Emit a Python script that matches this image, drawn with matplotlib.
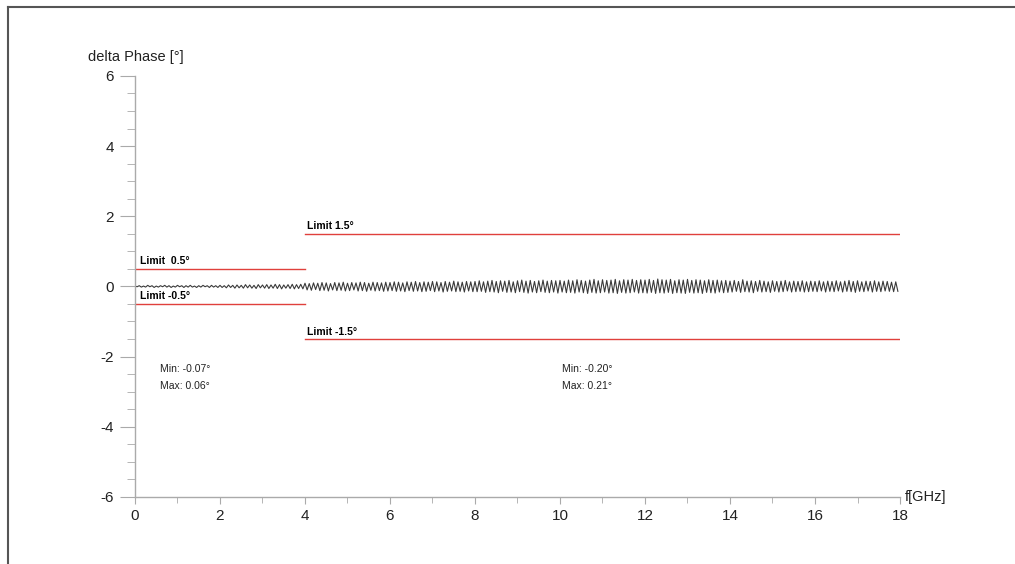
import numpy as np
import matplotlib
matplotlib.use("Agg")
import matplotlib.pyplot as plt
from matplotlib.lines import Line2D
from matplotlib.ticker import MultipleLocator

plt.rcParams['font.family'] = ['Liberation Sans', 'DejaVu Sans']
plt.rcParams['axes.unicode_minus'] = False

# ---- data ----
# upper excursion of each 0.1 GHz cycle
peaks_hi = [
    0.01, 0.02, 0.01, 0.03, 0.02, 0.01, 0.02, 0.03, 0.02, 0.01, 0.03, 0.02, 0.02, 0.03, 0.01, 0.02, 0.03, 0.02, 0.03, 0.02,
    0.03, 0.02, 0.04, 0.03, 0.04, 0.03, 0.05, 0.04, 0.03, 0.05, 0.04, 0.05, 0.04, 0.06, 0.05, 0.04, 0.05, 0.06, 0.05, 0.06,
    0.09, 0.08, 0.10, 0.09, 0.11, 0.10, 0.08, 0.11, 0.10, 0.12, 0.09, 0.11, 0.10, 0.12, 0.11, 0.09, 0.12, 0.11, 0.10, 0.12,
    0.11, 0.13, 0.12, 0.10, 0.13, 0.12, 0.14, 0.11, 0.13, 0.12, 0.14, 0.13, 0.11, 0.14, 0.12, 0.15, 0.13, 0.12, 0.14, 0.13,
    0.14, 0.16, 0.13, 0.15, 0.17, 0.14, 0.16, 0.15, 0.17, 0.13, 0.16, 0.18, 0.15, 0.17, 0.14, 0.16, 0.18, 0.15, 0.17, 0.16,
    0.17, 0.15, 0.18, 0.16, 0.19, 0.17, 0.15, 0.18, 0.20, 0.16, 0.19, 0.17, 0.18, 0.20, 0.16, 0.19, 0.18, 0.20, 0.17, 0.19,
    0.18, 0.20, 0.17, 0.21, 0.19, 0.18, 0.20, 0.16, 0.19, 0.18, 0.20, 0.17, 0.19, 0.18, 0.16, 0.19, 0.17, 0.18, 0.16, 0.17,
    0.15, 0.17, 0.14, 0.19, 0.15, 0.16, 0.14, 0.17, 0.15, 0.13, 0.16, 0.14, 0.15, 0.17, 0.13, 0.15, 0.14, 0.16, 0.13, 0.15,
    0.14, 0.16, 0.13, 0.15, 0.14, 0.16, 0.13, 0.15, 0.17, 0.14, 0.16, 0.13, 0.15, 0.14, 0.16, 0.13, 0.15, 0.14, 0.12, 0.13,
]
# lower excursion of each 0.1 GHz cycle
peaks_lo = [
    -0.01, -0.02, -0.02, -0.01, -0.03, -0.02, -0.01, -0.02, -0.03, -0.02, -0.01, -0.03, -0.02, -0.02, -0.03, -0.02, -0.01, -0.03, -0.02, -0.03,
    -0.03, -0.04, -0.03, -0.05, -0.04, -0.05, -0.04, -0.05, -0.06, -0.04, -0.05, -0.06, -0.05, -0.06, -0.07, -0.05, -0.06, -0.07, -0.06, -0.07,
    -0.10, -0.11, -0.09, -0.12, -0.11, -0.13, -0.10, -0.12, -0.11, -0.13, -0.12, -0.10, -0.13, -0.12, -0.14, -0.11, -0.13, -0.12, -0.14, -0.13,
    -0.12, -0.14, -0.13, -0.15, -0.12, -0.14, -0.13, -0.15, -0.14, -0.12, -0.15, -0.13, -0.16, -0.14, -0.13, -0.15, -0.14, -0.16, -0.13, -0.15,
    -0.15, -0.14, -0.17, -0.15, -0.16, -0.18, -0.14, -0.17, -0.16, -0.18, -0.15, -0.17, -0.19, -0.16, -0.18, -0.15, -0.17, -0.18, -0.16, -0.19,
    -0.16, -0.18, -0.17, -0.19, -0.16, -0.18, -0.20, -0.17, -0.19, -0.18, -0.16, -0.19, -0.18, -0.20, -0.17, -0.19, -0.18, -0.16, -0.19, -0.18,
    -0.19, -0.17, -0.20, -0.18, -0.19, -0.17, -0.20, -0.18, -0.19, -0.20, -0.17, -0.19, -0.18, -0.20, -0.17, -0.18, -0.19, -0.16, -0.18, -0.17,
    -0.16, -0.14, -0.17, -0.15, -0.16, -0.18, -0.14, -0.16, -0.15, -0.17, -0.14, -0.16, -0.15, -0.13, -0.16, -0.15, -0.14, -0.16, -0.15, -0.14,
    -0.15, -0.13, -0.16, -0.14, -0.15, -0.13, -0.16, -0.14, -0.15, -0.17, -0.14, -0.15, -0.13, -0.16, -0.14, -0.15, -0.13, -0.14, -0.15, -0.14,
]
cycle_ghz = 0.1

limit_bands = [  # (f_start, f_end, limit)
    (0, 4, 0.5),
    (4, 18, 1.5),
]
limit_labels = ["Limit  0.5°", "Limit -0.5°", "Limit 1.5°", "Limit -1.5°"]
stats = [  # (x, "Min", "Max")
    (0.6, "Min: -0.07°", "Max: 0.06°"),
    (10.05, "Min: -0.20°", "Max: 0.21°"),
]

x_ticks = [0, 2, 4, 6, 8, 10, 12, 14, 16, 18]
y_ticks = [-6, -4, -2, 0, 2, 4, 6]

# ---- build trace ----
n = len(peaks_hi)
freq = []
phase = []
for k in range(n):
    freq += [k * cycle_ghz, k * cycle_ghz + cycle_ghz / 2]
    phase += [peaks_hi[k], peaks_lo[k]]

fig = plt.figure(figsize=(10.15, 5.64), dpi=100)
ax = fig.add_axes([0.133, 0.119, 0.7537, 0.7464])

ax.plot(freq, phase, color='#3a3a3a', lw=0.8)

red = '#e0403c'
for f0, f1, lim in limit_bands:
    ax.plot([f0, f1], [lim, lim], color=red, lw=1.0)
    ax.plot([f0, f1], [-lim, -lim], color=red, lw=1.0)

ax.text(0.12, 0.57, limit_labels[0], fontsize=7.5, fontweight='bold', va='bottom', ha='left')
ax.text(0.12, -0.43, limit_labels[1], fontsize=7.5, fontweight='bold', va='bottom', ha='left')
ax.text(4.05, 1.57, limit_labels[2], fontsize=7.5, fontweight='bold', va='bottom', ha='left')
ax.text(4.05, -1.43, limit_labels[3], fontsize=7.5, fontweight='bold', va='bottom', ha='left')

for x, smin, smax in stats:
    ax.text(x, -2.35, smin, fontsize=7.5, va='center', ha='left', color='#222222')
    ax.text(x, -2.85, smax, fontsize=7.5, va='center', ha='left', color='#222222')

ax.set_xlim(0, 18)
ax.set_ylim(-6, 6)
ax.set_xticks(x_ticks)
ax.set_yticks(y_ticks)
ax.xaxis.set_minor_locator(MultipleLocator(1))
ax.yaxis.set_minor_locator(MultipleLocator(0.5))

for s in ['top', 'right']:
    ax.spines[s].set_visible(False)
for s in ['left', 'bottom']:
    ax.spines[s].set_color('#aaaaaa')
    ax.spines[s].set_linewidth(1.0)
ax.tick_params(axis='both', which='both', colors='#aaaaaa', labelcolor='#222222', labelsize=11)
ax.tick_params(axis='y', which='major', length=11, pad=4)
ax.tick_params(axis='y', which='minor', length=6)
ax.tick_params(axis='x', which='major', length=5, pad=4)
ax.tick_params(axis='x', which='minor', length=4)

ax.text(-1.1, 6.35, "delta Phase [°]", fontsize=10.5, ha='left', va='bottom', color='#222222')
ax.text(18.12, -6.0, "f[GHz]", fontsize=10.5, ha='left', va='center', color='#222222')

# page frame (top and left)
fig.add_artist(Line2D([8/1015, 1.0], [1 - 7/564, 1 - 7/564], transform=fig.transFigure, color='#555555', lw=1.5))
fig.add_artist(Line2D([8/1015, 8/1015], [0, 1 - 7/564], transform=fig.transFigure, color='#555555', lw=1.5))

fig.savefig("out.png", dpi=100)
